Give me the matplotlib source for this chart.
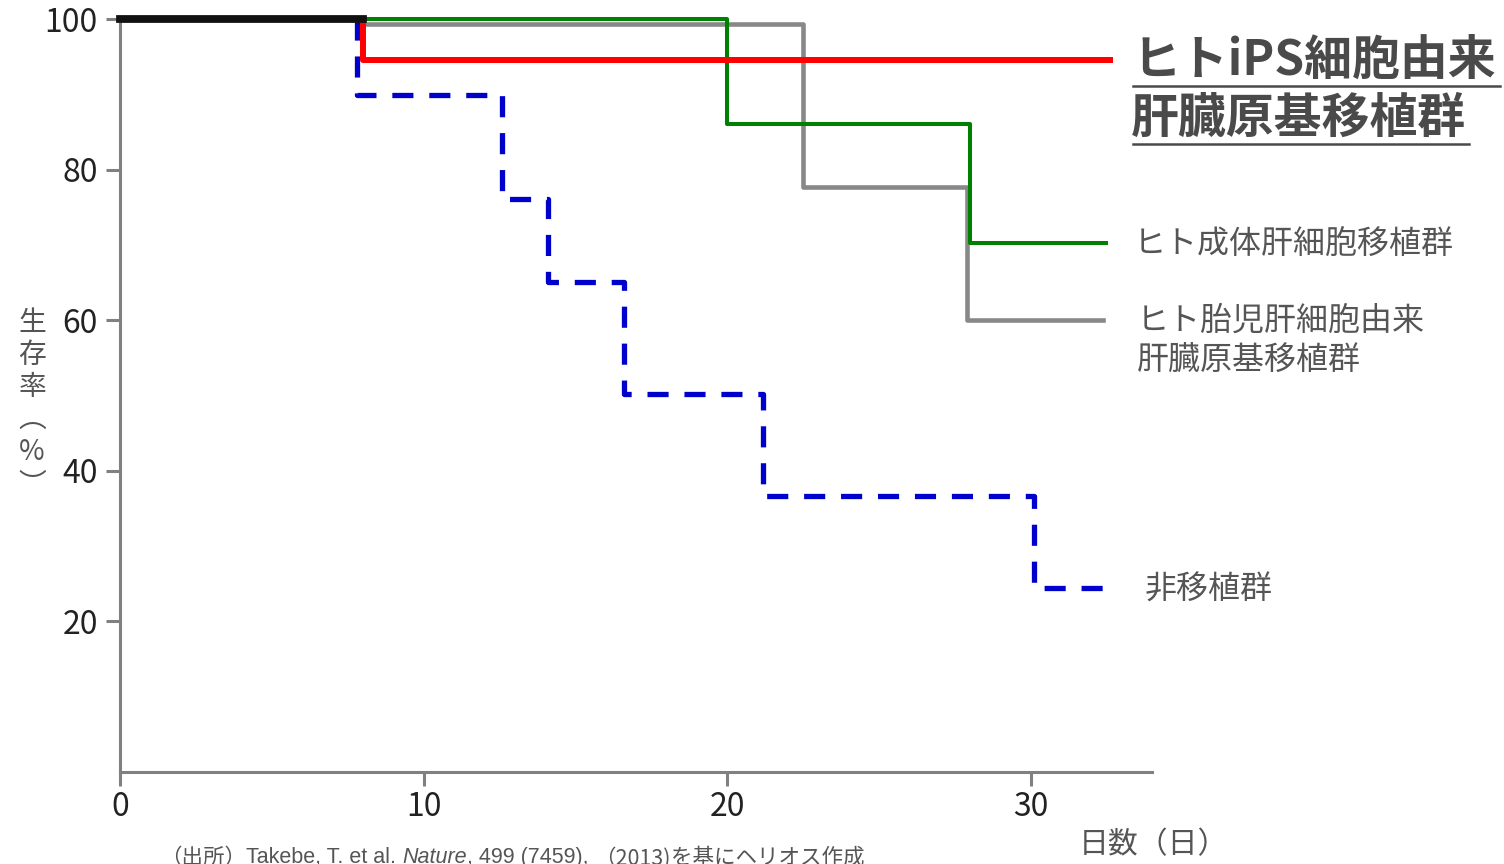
import matplotlib
matplotlib.use('Agg')
import matplotlib.pyplot as plt
from matplotlib.lines import Line2D

plt.rcParams['font.family'] = ['Noto Sans CJK JP', 'DejaVu Sans']

# step data (days, survival %)
black_t = [0, 8]
black_v = [100, 100]
red_t = [8, 8, 32.6]
red_v = [100, 94.6, 94.6]
green_t = [8, 20, 28, 32.5]
green_v = [100, 86.0, 70.3, 70.3]
gray_t = [8, 22.5, 27.9, 32.4]
gray_v = [99.4, 77.7, 60.0, 60.0]
blue_t = [7.8, 7.8, 12.6, 14.1, 16.6, 21.2, 30.1, 32.6]
blue_v = [100, 89.9, 76.1, 65.1, 50.2, 36.7, 24.4, 24.4]

x_ticks = [0, 10, 20, 30]
y_ticks = [20, 40, 60, 80, 100]

W, H = 1504, 864
fig = plt.figure(figsize=(W / 100, H / 100), dpi=100)
ax = fig.add_axes([120 / W, 1 - 772 / H, (1152 - 120) / W, (772 - 19) / H])

ax.step(blue_t, blue_v, where='post', color='#0000cc', lw=3.8,
        dashes=(4.0, 3.0), clip_on=False, zorder=2)
ax.step(gray_t, gray_v, where='post', color='#888888', lw=3.3, clip_on=False, zorder=3)
ax.step(green_t, green_v, where='post', color='#008000', lw=2.9, clip_on=False, zorder=4)
ax.step(red_t, red_v, where='post', color='#ff0000', lw=4.3, clip_on=False, zorder=5)
ax.step(black_t, black_v, where='post', color='#111111', lw=5.6, clip_on=False, zorder=6)

ax.set_xlim(0, 34)
ax.set_ylim(0, 100)
ax.set_xticks(x_ticks)
ax.set_yticks(y_ticks)
for s in ['top', 'right']:
    ax.spines[s].set_visible(False)
for s in ['left', 'bottom']:
    ax.spines[s].set_color('#808080')
    ax.spines[s].set_linewidth(2.2)
ax.tick_params(axis='both', colors='#808080', width=2.2, length=10,
               labelsize=23, labelcolor='#222222')
ax.tick_params(axis='y', pad=6)
ax.tick_params(axis='x', pad=4)

txt = '#555555'
# group labels
fig.text(1133 / W, 1 - 60 / H, 'ヒトiPS細胞由来', fontsize=34.5, fontweight='bold',
         color='#4a4a4a', va='center', ha='left')
fig.text(1131 / W, 1 - 118 / H, '肝臓原基移植群', fontsize=34.5, fontweight='bold',
         color='#4a4a4a', va='center', ha='left')
fig.add_artist(Line2D([1133 / W, 1500 / W], [1 - 86 / H, 1 - 86 / H], color='#4a4a4a', lw=1.8))
fig.add_artist(Line2D([1133 / W, 1469 / W], [1 - 144 / H, 1 - 144 / H], color='#4a4a4a', lw=1.8))

fig.text(1134 / W, 1 - 244 / H, 'ヒト成体肝細胞移植群', fontsize=23, color=txt, va='center')
fig.text(1137 / W, 1 - 321 / H, 'ヒト胎児肝細胞由来', fontsize=23, color=txt, va='center')
fig.text(1137 / W, 1 - 360 / H, '肝臓原基移植群', fontsize=23, color=txt, va='center')
fig.text(1145 / W, 1 - 590 / H, '非移植群', fontsize=23, color=txt, va='center')

# axis titles
fig.text(1079 / W, 1 - 845 / H, '日数（日）', fontsize=21.5, color=txt, va='center')
ylab = ['生', '存', '率', '︵', '%', '︶']
ylab_y = [323, 355, 387, 419, 452, 485]
for ch, yy in zip(ylab, ylab_y):
    fig.text(32 / W, 1 - yy / H, ch, fontsize=20, color=txt, ha='center', va='center')

# source note, partly cut off at the bottom
fig.canvas.draw()
r = fig.canvas.get_renderer()
parts = [('（出所）', 'normal', 'Noto Sans CJK JP'),
         ('Takebe, T. et al. ', 'normal', 'Liberation Sans'),
         ('Nature', 'italic', 'Liberation Sans'),
         (', 499 (7459), ', 'normal', 'Liberation Sans'),
         ('（2013)', 'normal', 'Noto Sans CJK JP'),
         ('を基にヘリオス作成', 'normal', 'Noto Sans CJK JP')]
x0 = 160
for s, st, fam in parts:
    t = fig.text(x0 / W, 1 - 847 / H, s, fontsize=15.5, style=st, color='#555555',
                 va='top', family=[fam, 'Noto Sans CJK JP'])
    x0 = t.get_window_extent(r).x1

fig.savefig('out.png', dpi=100)
